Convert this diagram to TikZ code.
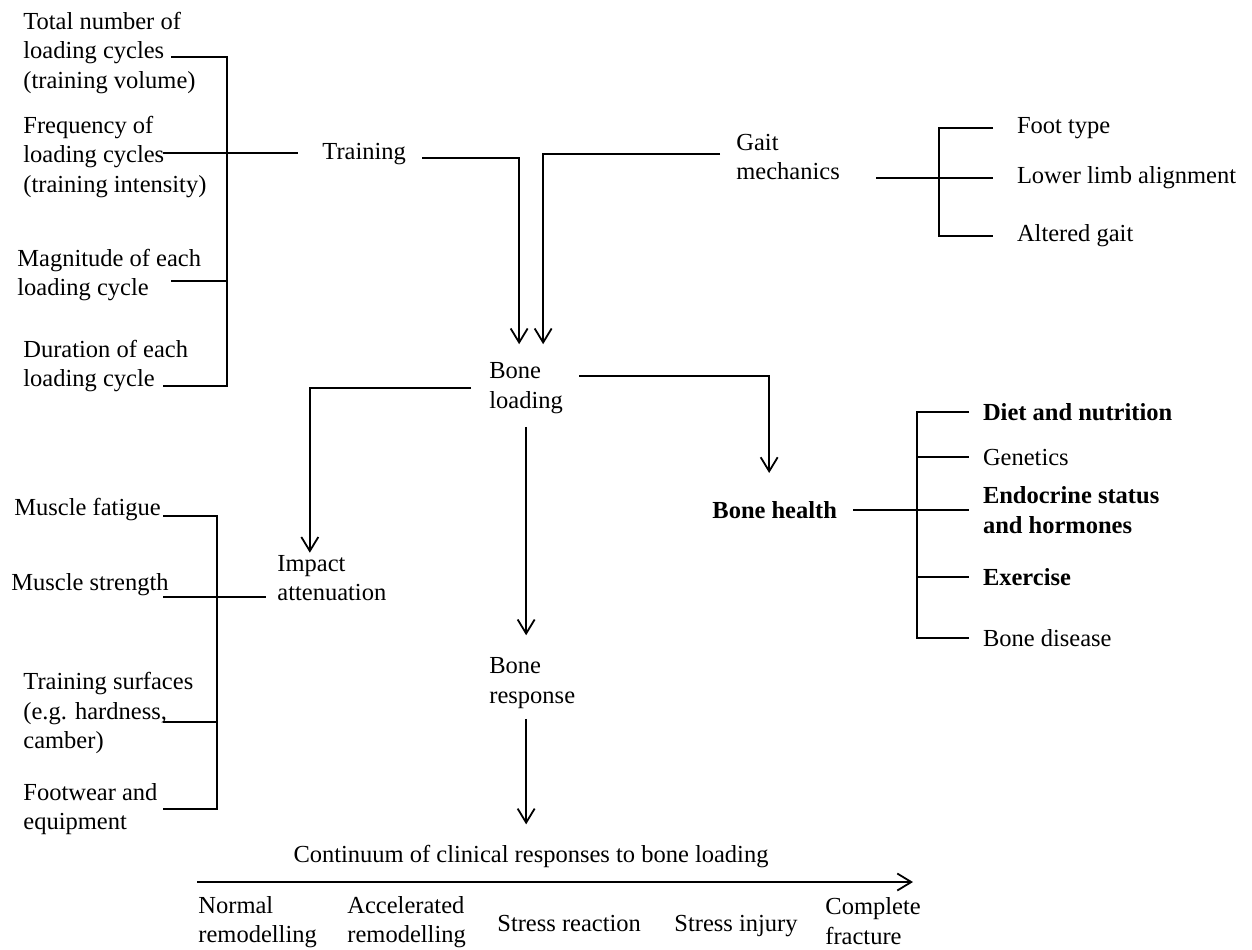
\documentclass[tikz,border=0pt]{standalone}
\usepackage{fontspec}
\setmainfont{Liberation Serif}
\usetikzlibrary{arrows.meta}
\tikzset{
  txt/.style  ={align=left, anchor=west, inner sep=0pt, font=\fontsize{12.25}{14.75}\selectfont},
  btxt/.style ={txt, font=\fontsize{12.25}{14.75}\selectfont\bfseries},
  gleaf/.style={txt, outer xsep=12pt},
  hleaf/.style={txt, outer xsep=7pt},
  ln/.style   ={line width=0.9pt, black},
  arr/.style  ={ln, -{Straight Barb[length=7pt, width=8.5pt]}},
}

\begin{document}
\begin{tikzpicture}[x=0.5pt, y=-0.5pt]
\useasboundingbox (0,0) rectangle (1252,949);

% ---- training factors ----
\node[txt] (tvol) at (23,53)  {Total number of\\loading cycles\\(training volume)};
\node[txt] (tint) at (23,157) {Frequency of\\loading cycles\\(training intensity)};
\node[txt] (tmag) at (17,275) {Magnitude of each\\loading cycle};
\node[txt] (tdur) at (23,366) {Duration of each\\loading cycle};
\foreach \n/\x/\y in {s1/171/57, s2/163/153, s3/171/281, s4/163/386, tbk/227/0}{\coordinate (\n) at (\x,\y);}

% ---- central chain ----
\node[txt]  (train) at (322,154) {Training};
\node[txt]  (gait)  at (736,157) {Gait\\mechanics};
\node[txt]  (bload) at (489,388) {Bone\\loading};
\node[btxt] (bh)    at (712,510) {Bone health};
\node[txt]  (imp)   at (277,578) {Impact\\attenuation};
\node[txt]  (bresp) at (489,683) {Bone\\response};

% ---- gait factors ----
\node[gleaf] (foot) at (993,128) {Foot type};
\node[gleaf] (limb) at (993,178) {Lower limb alignment};
\node[gleaf] (alt)  at (993,236) {Altered gait};
\coordinate (gbk) at (939,0);

% ---- bone health factors ----
\node[hleaf, btxt, outer xsep=7pt] (diet) at (969,412) {Diet and nutrition};
\node[hleaf] (gen)  at (969,457) {Genetics};
\node[hleaf, btxt, outer xsep=7pt] (endo) at (969,510) {Endocrine status\\and hormones};
\node[hleaf, btxt, outer xsep=7pt] (exer) at (969,577) {Exercise};
\node[hleaf] (dis)  at (969,638) {Bone disease};
\coordinate (hbk) at (917,0);

% ---- impact factors ----
\node[txt] (mfat) at (14,510) {Muscle fatigue};
\node[txt] (mstr) at (11,585) {Muscle strength};
\node[txt] (surf) at (23,713) {Training surfaces\\(e.g. hardness,\\camber)};
\node[txt] (shoe) at (23,809) {Footwear and\\equipment};
\foreach \n/\x/\y in {a1/163/516, a2/163/597, a3/163/722, a4/163/809, abk/217/0}{\coordinate (\n) at (\x,\y);}

% ---- continuum ----
\node[txt, anchor=center] (cont) at (531,856) {Continuum of clinical responses to bone loading};
\coordinate (c0) at (197,882); \coordinate (c1) at (913,882);
\node[txt] (norm)   at (198,922) {Normal\\remodelling};
\node[txt] (accel)  at (347,922) {Accelerated\\remodelling};
\node[txt] (sreact) at (497,923) {Stress reaction};
\node[txt] (sinj)   at (674,926) {Stress injury};
\node[txt] (compl)  at (825,921) {Complete\\fracture};

% brackets
\draw[ln] (s1) -- (s1 -| tbk) -- (s4 -| tbk) -- (s4);
\draw[ln] (s3) -- (s3 -| tbk);
\draw[ln, shorten >=12pt] (s2) -- (s2 -| train.west);
\draw[ln] (foot.west) -- (foot.west -| gbk) -- (alt.west -| gbk) -- (alt.west);
\draw[ln, shorten <=18pt] ([yshift=-10.5pt]gait.east) -- (limb.west);
\draw[ln] (diet.west) -- (diet.west -| hbk) -- (dis.west -| hbk) -- (dis.west);
\draw[ln] (gen.west -| hbk) -- (gen.west);
\draw[ln] (exer.west -| hbk) -- (exer.west);
\draw[ln, shorten <=8pt] (bh.east) -- (endo.west);
\draw[ln] (a1) -- (a1 -| abk) -- (a4 -| abk) -- (a4);
\draw[ln] (a3) -- (a3 -| abk);
\draw[ln, shorten >=5.5pt] (a2) -- (a2 -| imp.west);

% arrows
\draw[arr, shorten <=8pt, shorten >=9pt] ([yshift=-2pt]train.east) -| ([xshift=-3.5pt]bload.north);
\draw[arr, shorten <=8pt, shorten >=9pt] ([yshift=1.5pt]gait.west) -| ([xshift=8.5pt]bload.north);
\draw[arr, shorten <=9pt, shorten >=1pt] (bload.west) -| ([xshift=-11pt]imp.north);
\draw[arr, shorten <=8pt, shorten >=14pt] ([yshift=6pt]bload.east) -| ([xshift=-2.75pt]bh.north);
\draw[arr, shorten <=6.5pt, shorten >=11pt] (bload.south) -- (bload.south |- bresp.north);
\draw[arr, shorten <=5pt, shorten >=10pt] (bresp.south -| bload.south) -- (cont.north -| bload.south);
\draw[arr] (c0) -- (c1);
\end{tikzpicture}
\end{document}
